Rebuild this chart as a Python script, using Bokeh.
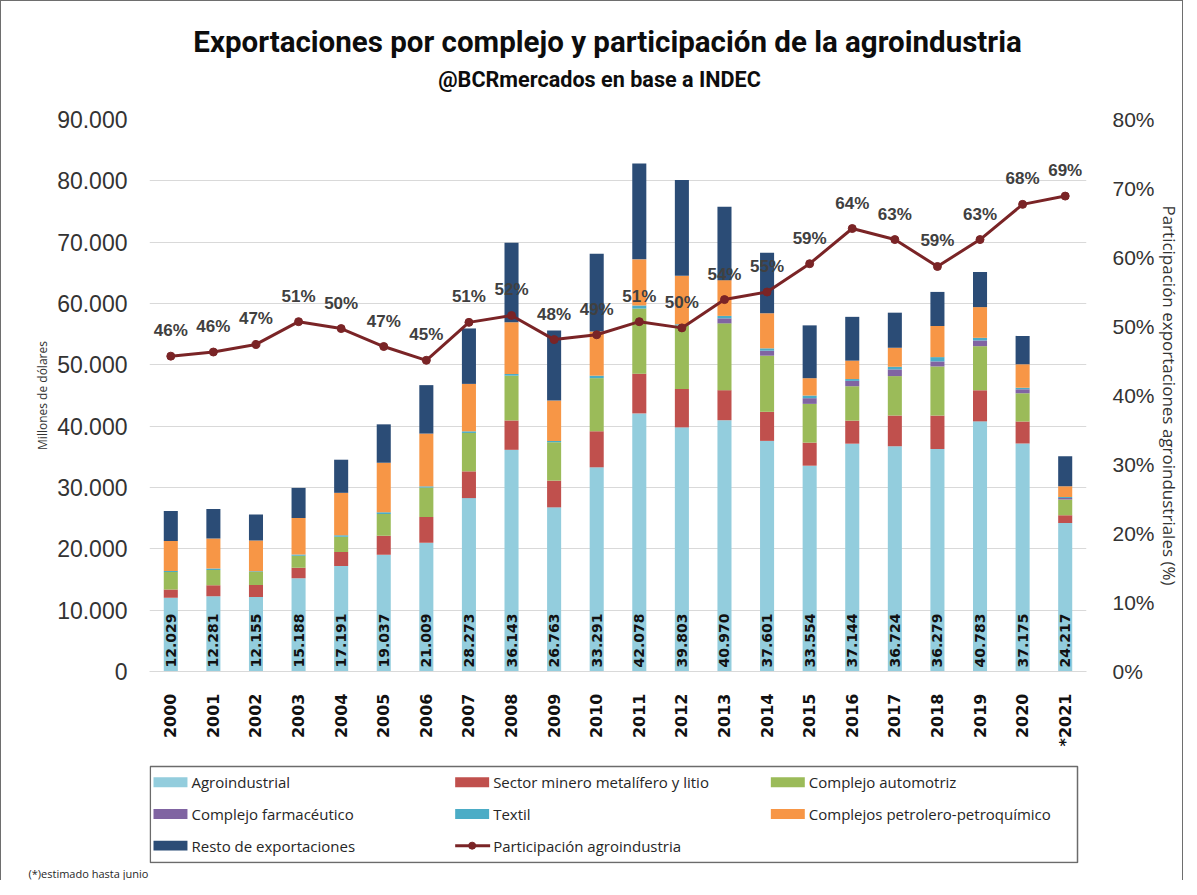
import math
from bokeh.plotting import figure
from bokeh.models import ColumnDataSource, Range1d, FactorRange, LinearAxis, FixedTicker, Title
from bokeh.layouts import column
from bokeh.core.properties import value
from bokeh.embed import file_html
from bokeh.resources import INLINE

# ---------------- data ----------------
years = ["2000", "2001", "2002", "2003", "2004", "2005", "2006", "2007", "2008", "2009", "2010",
         "2011", "2012", "2013", "2014", "2015", "2016", "2017", "2018", "2019", "2020", "*2021"]

agroindustrial = [12029, 12281, 12155, 15188, 17191, 19037, 21009, 28273, 36143, 26763, 33291,
                  42078, 39803, 40970, 37601, 33554, 37144, 36724, 36279, 40783, 37175, 24217]
minero = [1360, 1800, 1960, 1740, 2290, 3100, 4190, 4360, 4790, 4360, 5880,
          6480, 6260, 4900, 4740, 3760, 3760, 5010, 5450, 5070, 3600, 1250]
automotriz = [2830, 2450, 2120, 1960, 2500, 3540, 4790, 6260, 7300, 6260, 8660,
              10620, 10350, 10890, 9150, 6320, 5610, 6430, 8010, 7190, 4580, 2560]
farmaceutico = [0, 0, 0, 0, 0, 0, 0, 0, 0, 0, 0,
                0, 0, 820, 820, 930, 870, 1090, 820, 930, 650, 270]
textil = [150, 270, 100, 200, 250, 300, 200, 270, 270, 200, 400,
          500, 200, 400, 380, 430, 300, 430, 700, 430, 270, 150]
petrolero = [4900, 4900, 5010, 5950, 6900, 8060, 8600, 7730, 8440, 6590, 7190,
             7520, 7900, 5830, 5720, 2830, 3000, 3100, 5070, 5010, 3810, 1740]
resto = [4900, 4800, 4250, 4900, 5400, 6260, 7900, 9040, 12960, 11440, 12690,
         15630, 15630, 11980, 9860, 8610, 7140, 5720, 5560, 5720, 4630, 4900]
participacion = [45.7, 46.3, 47.4, 50.7, 49.7, 47.1, 45.1, 50.6, 51.6, 48.1, 48.8,
                 50.7, 49.8, 53.9, 55.0, 59.1, 64.2, 62.6, 58.7, 62.6, 67.7, 68.9]

series_names = ["Agroindustrial", "Sector minero metalífero y litio", "Complejo automotriz",
                "Complejo farmacéutico", "Textil", "Complejos petrolero-petroquímico",
                "Resto de exportaciones", "Participación agroindustria"]

left_ticks = [0, 10000, 20000, 30000, 40000, 50000, 60000, 70000, 80000, 90000]
left_tick_labels = ["0", "10.000", "20.000", "30.000", "40.000", "50.000", "60.000", "70.000", "80.000", "90.000"]
right_ticks = [0, 10, 20, 30, 40, 50, 60, 70, 80]
right_tick_labels = ["0%", "10%", "20%", "30%", "40%", "50%", "60%", "70%", "80%"]

title_text = "Exportaciones por complejo y participación de la agroindustria"
subtitle_text = "@BCRmercados en base a INDEC"
left_axis_title = "Millones de dólares"
right_axis_title = "Participación exportaciones agroindustriales (%)"
footnote_text = "(*)estimado hasta junio"

# ---------------- styles ----------------
stack_colors = ["#93CDDD", "#C0504D", "#9BBB59", "#8064A2", "#4BACC6", "#F79646", "#2B4C76"]
line_color = "#7A2426"
W = 1181
H0, H1, H2 = 103, 655, 121
FL, FR, FH = 148, 95, 552            # frame left, right border, frame height
MT = 15                              # main figure top border


def blank_panel(height, y_top, y_bottom, bottom_border=0):
    f = figure(width=W, height=height, x_range=Range1d(FL, W - FR),
               y_range=Range1d(y_bottom, y_top),
               output_backend="svg", toolbar_location=None,
               min_border_left=FL, min_border_right=FR, min_border_top=0,
               min_border_bottom=bottom_border,
               x_axis_location=None, y_axis_location=None, title_location=None)
    f.grid.visible = False
    f.outline_line_color = None
    f.background_fill_color = "white"
    f.border_fill_color = "white"
    return f


# ---------------- header (page-pixel coordinates) ----------------
hd = blank_panel(H0, 0, H0)
hd.text(x=[606.5], y=[40], text=[title_text], text_align="center", text_baseline="middle",
        text_font=value("Roboto"), text_font_style="bold", text_font_size="29.5px",
        text_color="#0d0d0d")
hd.text(x=[598.5], y=[78], text=[subtitle_text], text_align="center", text_baseline="middle",
        text_font=value("Roboto"), text_font_style="bold", text_font_size="21.6px",
        text_color="#0d0d0d")

# ---------------- main chart ----------------
stack_keys = ["agro", "minero", "auto", "farma", "textil", "petro", "resto"]
src = ColumnDataSource(dict(
    year=years, agro=agroindustrial, minero=minero, auto=automotriz, farma=farmaceutico,
    textil=textil, petro=petrolero, resto=resto, part=participacion,
    part_lbl=[f"{round(v)}%" for v in participacion],
    agro_lbl=[f"{v:,}".replace(",", ".") for v in agroindustrial],
))

p = figure(width=W, height=H1, x_range=FactorRange(*years), y_range=Range1d(0, 90000),
           output_backend="svg", toolbar_location=None, title_location=None,
           min_border_left=FL, min_border_right=FR, min_border_top=MT,
           min_border_bottom=H1 - MT - FH)
p.extra_y_ranges = {"pct": Range1d(0, 80)}
p.outline_line_color = None
p.background_fill_color = "white"
p.border_fill_color = "white"

bars = p.vbar_stack(stack_keys, x="year", width=0.33, source=src,
                    fill_color=stack_colors, line_color=None)

p.line(x="year", y="part", source=src, y_range_name="pct", line_color=line_color, line_width=3)
p.scatter(x="year", y="part", source=src, y_range_name="pct", size=8,
          fill_color=line_color, line_color=line_color)

p.text(x="year", y="part", text="part_lbl", source=src, y_range_name="pct",
       text_align="center", text_baseline="bottom", y_offset=-16,
       text_font=value("Liberation Sans"), text_font_style="bold",
       text_font_size="17px", text_color="#404040")
p.text(x="year", y=0, text="agro_lbl", source=src, angle=math.pi / 2,
       text_align="left", text_baseline="middle", y_offset=-4,
       text_font=value("DejaVu Sans"), text_font_style="bold",
       text_font_size="14px", text_color="#111111")

p.xgrid.visible = False
p.ygrid.ticker = FixedTicker(ticks=left_ticks)
p.ygrid.grid_line_color = "#D9D9D9"
p.ygrid.grid_line_width = 1

xa = p.xaxis[0]
xa.major_label_orientation = math.pi / 2
xa.major_label_text_font = "DejaVu Sans"
xa.major_label_text_font_style = "bold"
xa.major_label_text_font_size = "16px"
xa.major_label_text_color = "#111111"
xa.major_tick_line_color = None
xa.major_tick_out = 0
xa.minor_tick_line_color = None
xa.axis_line_color = "#D9D9D9"
xa.major_label_standoff = 22

ya = p.yaxis[0]
ya.ticker = FixedTicker(ticks=left_ticks)
ya.major_label_overrides = dict(zip(left_ticks, left_tick_labels))
ya.axis_label = left_axis_title
ya.major_label_text_font = "Liberation Sans"
ya.major_label_text_font_size = "23px"
ya.major_label_text_color = "#333333"
ya.axis_line_color = None
ya.major_tick_line_color = None
ya.major_tick_out = 0
ya.minor_tick_line_color = None
ya.major_label_standoff = 22
ya.axis_label_text_font = "Open Sans"
ya.axis_label_text_font_size = "12px"
ya.axis_label_text_font_style = "normal"
ya.axis_label_text_color = "#333333"
ya.axis_label_standoff = 3

rax = LinearAxis(y_range_name="pct", ticker=FixedTicker(ticks=right_ticks),
                 major_label_overrides=dict(zip(right_ticks, right_tick_labels)))
rax.major_label_text_font = "Liberation Sans"
rax.major_label_text_font_size = "21px"
rax.major_label_text_color = "#333333"
rax.axis_line_color = None
rax.major_tick_line_color = None
rax.major_tick_out = 0
rax.minor_tick_line_color = None
rax.major_label_standoff = 26
p.add_layout(rax, "right")
p.add_layout(Title(text=right_axis_title, align="center", text_font="Open Sans",
                   text_font_size="17px", text_font_style="normal", text_color="#333333",
                   standoff=0), "right")

# ---------------- legend panel (page-pixel coordinates) ----------------
LB = 16
lg = blank_panel(H2, H0 + H1, H0 + H1 + H2 - LB, bottom_border=LB)

box_l, box_r, box_t, box_b = 148.8, 1077, 765, 862
lg.quad(left=box_l, right=box_r, top=box_t, bottom=box_b, fill_color=None,
        line_color="#6b6b6b", line_width=1.5)

col_x = [152, 454, 770]
row_y = [781, 813, 845]
sw_x, sw_y, sw_c, tx_x, tx_y, tx_t = [], [], [], [], [], []
for i, name in enumerate(series_names):
    cx = col_x[i % 3]
    cy = row_y[i // 3]
    tx_x.append(cx + 38)
    tx_y.append(cy)
    tx_t.append(name)
    if i < len(stack_colors):
        sw_x.append(cx + 17)
        sw_y.append(cy)
        sw_c.append(stack_colors[i])
    else:
        lg.line(x=[cx, cx + 35], y=[cy, cy], line_color=line_color, line_width=3)
        lg.scatter(x=[cx + 17], y=[cy], size=7, fill_color=line_color, line_color=line_color)
lg.rect(x=sw_x, y=sw_y, width=34, height=10, fill_color=sw_c, line_color=None)
lg.text(x=tx_x, y=tx_y, text=tx_t, text_baseline="middle", text_align="left",
        text_font=value("Open Sans"), text_font_size="15px", text_color="#262626")

lg.add_layout(Title(text=footnote_text, align="left", offset=27 - FL, text_font="Open Sans",
                    text_font_size="11px", text_font_style="normal", text_color="#262626",
                    standoff=0), "below")

layout = column(hd, p, lg, spacing=0,
                styles={"border-left": "1px solid #6e6e6e", "border-top": "1px solid #6e6e6e",
                        "border-right": "1px solid #6e6e6e"})
open("out.html", "w").write(file_html(layout, INLINE))
